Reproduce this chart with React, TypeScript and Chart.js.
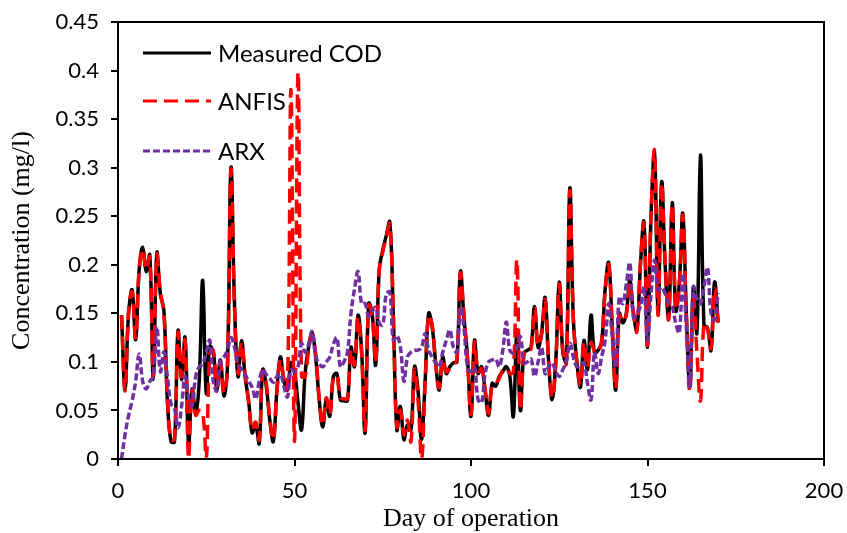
import React, { useEffect, useRef } from "react";
import { Chart, registerables } from "chart.js";

Chart.register(...registerables);

// Day index (x) for each sample
const days: number[] = Array.from({ length: 170 }, (_, i) => i + 1);

const seriesNames = ["Measured COD", "ANFIS", "ARX"];

const measuredCOD: number[] = [
  0.148, 0.072, 0.150, 0.174, 0.123, 0.195, 0.218, 0.193, 0.210, 0.082,
  0.212, 0.170, 0.153, 0.060, 0.018, 0.018, 0.132, 0.082, 0.125, 0.015,
  0.072, 0.048, 0.080, 0.184, 0.068, 0.116, 0.110, 0.072, 0.102, 0.065,
  0.095, 0.300, 0.160, 0.085, 0.122, 0.085, 0.060, 0.027, 0.035, 0.016,
  0.092, 0.075, 0.040, 0.018, 0.070, 0.105, 0.081, 0.071, 0.099, 0.090,
  0.058, 0.030, 0.088, 0.115, 0.130, 0.105, 0.061, 0.033, 0.061, 0.044,
  0.085, 0.088, 0.061, 0.060, 0.060, 0.115, 0.095, 0.148, 0.112, 0.027,
  0.160, 0.150, 0.097, 0.195, 0.215, 0.230, 0.244, 0.146, 0.030, 0.054,
  0.020, 0.035, 0.030, 0.095, 0.070, 0.020, 0.080, 0.150, 0.136, 0.099,
  0.071, 0.105, 0.088, 0.095, 0.099, 0.100, 0.193, 0.146, 0.105, 0.044,
  0.122, 0.088, 0.095, 0.070, 0.045, 0.078, 0.075, 0.085, 0.090, 0.095,
  0.085, 0.044, 0.133, 0.050, 0.109, 0.112, 0.115, 0.157, 0.115, 0.130,
  0.166, 0.099, 0.061, 0.100, 0.182, 0.110, 0.100, 0.279, 0.143, 0.100,
  0.074, 0.122, 0.092, 0.148, 0.109, 0.112, 0.120, 0.175, 0.202, 0.136,
  0.071, 0.150, 0.140, 0.150, 0.184, 0.150, 0.133, 0.200, 0.244, 0.115,
  0.250, 0.315, 0.150, 0.285, 0.200, 0.146, 0.264, 0.153, 0.180, 0.253,
  0.150, 0.074, 0.177, 0.130, 0.313, 0.138, 0.135, 0.112, 0.182, 0.141,
];

const anfis: number[] = [
  0.148, 0.070, 0.152, 0.172, 0.125, 0.195, 0.216, 0.195, 0.208, 0.085,
  0.210, 0.172, 0.150, 0.062, 0.020, 0.020, 0.130, 0.085, 0.122, 0.000,
  0.070, 0.045, 0.050, 0.048, 0.000, 0.108, 0.112, 0.075, 0.100, 0.068,
  0.093, 0.298, 0.158, 0.088, 0.120, 0.088, 0.058, 0.030, 0.038, 0.020,
  0.090, 0.078, 0.042, 0.020, 0.068, 0.102, 0.083, 0.073, 0.380, 0.018,
  0.398, 0.085, 0.085, 0.112, 0.128, 0.108, 0.063, 0.035, 0.063, 0.046,
  0.083, 0.086, 0.063, 0.062, 0.062, 0.112, 0.097, 0.146, 0.110, 0.030,
  0.158, 0.148, 0.100, 0.193, 0.213, 0.228, 0.242, 0.148, 0.033, 0.050,
  0.025, 0.040, 0.018, 0.092, 0.060, 0.000, 0.078, 0.148, 0.138, 0.097,
  0.073, 0.103, 0.090, 0.093, 0.097, 0.102, 0.191, 0.148, 0.103, 0.046,
  0.120, 0.090, 0.093, 0.072, 0.047, 0.076, 0.078, 0.083, 0.092, 0.093,
  0.088, 0.090, 0.205, 0.052, 0.107, 0.114, 0.113, 0.155, 0.117, 0.128,
  0.164, 0.101, 0.063, 0.098, 0.180, 0.112, 0.098, 0.276, 0.145, 0.098,
  0.076, 0.120, 0.094, 0.120, 0.111, 0.110, 0.122, 0.173, 0.200, 0.138,
  0.073, 0.148, 0.142, 0.148, 0.182, 0.152, 0.131, 0.202, 0.242, 0.117,
  0.252, 0.317, 0.148, 0.283, 0.202, 0.144, 0.262, 0.155, 0.178, 0.251,
  0.148, 0.070, 0.165, 0.110, 0.060, 0.140, 0.133, 0.114, 0.175, 0.140,
];

const arx: number[] = [
  0.000, 0.025, 0.045, 0.060, 0.080, 0.108, 0.080, 0.072, 0.080, 0.085,
  0.136, 0.090, 0.110, 0.085, 0.057, 0.052, 0.032, 0.054, 0.085, 0.064,
  0.055, 0.085, 0.095, 0.098, 0.110, 0.122, 0.080, 0.070, 0.100, 0.105,
  0.112, 0.125, 0.115, 0.098, 0.092, 0.087, 0.080, 0.074, 0.062, 0.080,
  0.092, 0.087, 0.083, 0.079, 0.085, 0.088, 0.075, 0.064, 0.092, 0.090,
  0.095, 0.119, 0.110, 0.118, 0.131, 0.106, 0.098, 0.095, 0.100, 0.105,
  0.118, 0.125, 0.095, 0.100, 0.110, 0.150, 0.175, 0.193, 0.160, 0.160,
  0.147, 0.152, 0.156, 0.140, 0.138, 0.170, 0.172, 0.122, 0.127, 0.115,
  0.080, 0.105, 0.110, 0.112, 0.112, 0.115, 0.129, 0.112, 0.105, 0.099,
  0.095, 0.110, 0.122, 0.133, 0.115, 0.110, 0.156, 0.135, 0.095, 0.090,
  0.095, 0.061, 0.058, 0.088, 0.100, 0.102, 0.103, 0.095, 0.112, 0.141,
  0.112, 0.109, 0.115, 0.126, 0.099, 0.100, 0.103, 0.085, 0.100, 0.115,
  0.088, 0.095, 0.099, 0.090, 0.085, 0.092, 0.100, 0.119, 0.105, 0.095,
  0.097, 0.099, 0.078, 0.061, 0.110, 0.088, 0.105, 0.122, 0.160, 0.126,
  0.095, 0.167, 0.160, 0.180, 0.202, 0.146, 0.150, 0.157, 0.177, 0.122,
  0.170, 0.205, 0.174, 0.177, 0.170, 0.160, 0.157, 0.140, 0.130, 0.191,
  0.136, 0.075, 0.177, 0.165, 0.160, 0.177, 0.197, 0.150, 0.143, 0.171,
];

const xTickValues = [0, 50, 100, 150, 200];
const yTickValues = [0, 0.05, 0.1, 0.15, 0.2, 0.25, 0.3, 0.35, 0.4, 0.45];

const COLORS = ["#000000", "#FF0000", "#7030A0"];
const DASHES: number[][] = [[], [14, 7], [7, 3]];

export default function App() {
  const ref = useRef<HTMLCanvasElement | null>(null);

  useEffect(() => {
    if (!ref.current) return;
    const toPts = (vals: number[]) => vals.map((v, i) => ({ x: days[i], y: v }));

    const framePlugin = {
      id: "frame",
      afterDraw(chart: any) {
        const { ctx, chartArea } = chart;
        ctx.save();
        ctx.strokeStyle = "#000";
        ctx.lineWidth = 2;
        ctx.strokeRect(chartArea.left, chartArea.top, chartArea.right - chartArea.left, chartArea.bottom - chartArea.top);
        ctx.restore();
      },
    };

    const legendPlugin = {
      id: "insideLegend",
      afterDraw(chart: any) {
        const { ctx } = chart;
        const rows = [53, 101, 151];
        ctx.save();
        ctx.font = "24px Lato";
        ctx.textBaseline = "middle";
        ctx.textAlign = "left";
        seriesNames.forEach((name, i) => {
          ctx.strokeStyle = COLORS[i];
          ctx.lineWidth = 3;
          ctx.setLineDash(DASHES[i]);
          ctx.beginPath();
          ctx.moveTo(143, rows[i]);
          ctx.lineTo(211, rows[i]);
          ctx.stroke();
          ctx.setLineDash([]);
          ctx.fillStyle = "#000";
          ctx.fillText(name, 218, rows[i] + 1);
        });
        ctx.restore();
      },
    };

    const tickFont = { family: "Lato", size: 22 };
    const titleFont = { family: "Liberation Serif", size: 26 };

    const chart = new Chart(ref.current, {
      type: "line",
      data: {
        datasets: [
          {
            label: seriesNames[0],
            data: toPts(measuredCOD),
            borderColor: COLORS[0],
            borderWidth: 3.5,
            borderDash: DASHES[0],
            order: 3,
          },
          {
            label: seriesNames[1],
            data: toPts(anfis),
            borderColor: COLORS[1],
            borderWidth: 3.5,
            borderDash: DASHES[1],
            order: 2,
          },
          {
            label: seriesNames[2],
            data: toPts(arx),
            borderColor: COLORS[2],
            borderWidth: 3.5,
            borderDash: DASHES[2],
            order: 1,
          },
        ],
      },
      options: {
        animation: false,
        responsive: true,
        maintainAspectRatio: false,
        layout: { padding: { left: 0, top: 22, right: 23, bottom: 0 } },
        plugins: {
          legend: { display: false },
          tooltip: { enabled: false },
        },
        elements: {
          point: { radius: 0, hoverRadius: 0 },
          line: { tension: 0.4, fill: false },
        },
        scales: {
          x: {
            type: "linear",
            min: 0,
            max: 200,
            afterBuildTicks: (s: any) => {
              s.ticks = xTickValues.map((v) => ({ value: v }));
            },
            afterFit: (s: any) => {
              s.height = 74;
              s.paddingLeft = 0;
              s.paddingRight = 0;
            },
            grid: {
              display: true,
              drawOnChartArea: false,
              drawTicks: true,
              tickLength: 7,
              color: "#000",
              lineWidth: 2,
            },
            border: { display: true, color: "#000", width: 2 },
            ticks: {
              font: tickFont,
              color: "#000",
              padding: 12,
              maxRotation: 0,
              autoSkip: false,
              callback: (v: any) => String(v),
            },
            title: {
              display: true,
              text: "Day of operation",
              font: { ...titleFont, lineHeight: 1.1 },
              color: "#000",
              padding: { top: 0, bottom: 0 },
            },
          },
          y: {
            type: "linear",
            min: 0,
            max: 0.45,
            afterBuildTicks: (s: any) => {
              s.ticks = yTickValues.map((v) => ({ value: v }));
            },
            afterFit: (s: any) => {
              s.width = 118;
              s.paddingTop = 0;
              s.paddingBottom = 0;
            },
            grid: {
              display: true,
              drawOnChartArea: false,
              drawTicks: true,
              tickLength: 7,
              color: "#000",
              lineWidth: 2,
            },
            border: { display: true, color: "#000", width: 2 },
            ticks: {
              font: tickFont,
              color: "#000",
              padding: 12,
              autoSkip: false,
              callback: (v: any) => String(Number(Number(v).toFixed(2))),
            },
            title: {
              display: true,
              text: "Concentration (mg/l)",
              font: { ...titleFont, lineHeight: 1.2 },
              color: "#000",
              padding: { top: 7, bottom: 0 },
            },
          },
        },
      },
      plugins: [framePlugin, legendPlugin],
    } as any);

    return () => chart.destroy();
  }, []);

  return (
    <div style={{ position: "absolute", left: 0, top: 0, width: 847, height: 533, background: "#fff" }}>
      <canvas ref={ref} />
    </div>
  );
}
